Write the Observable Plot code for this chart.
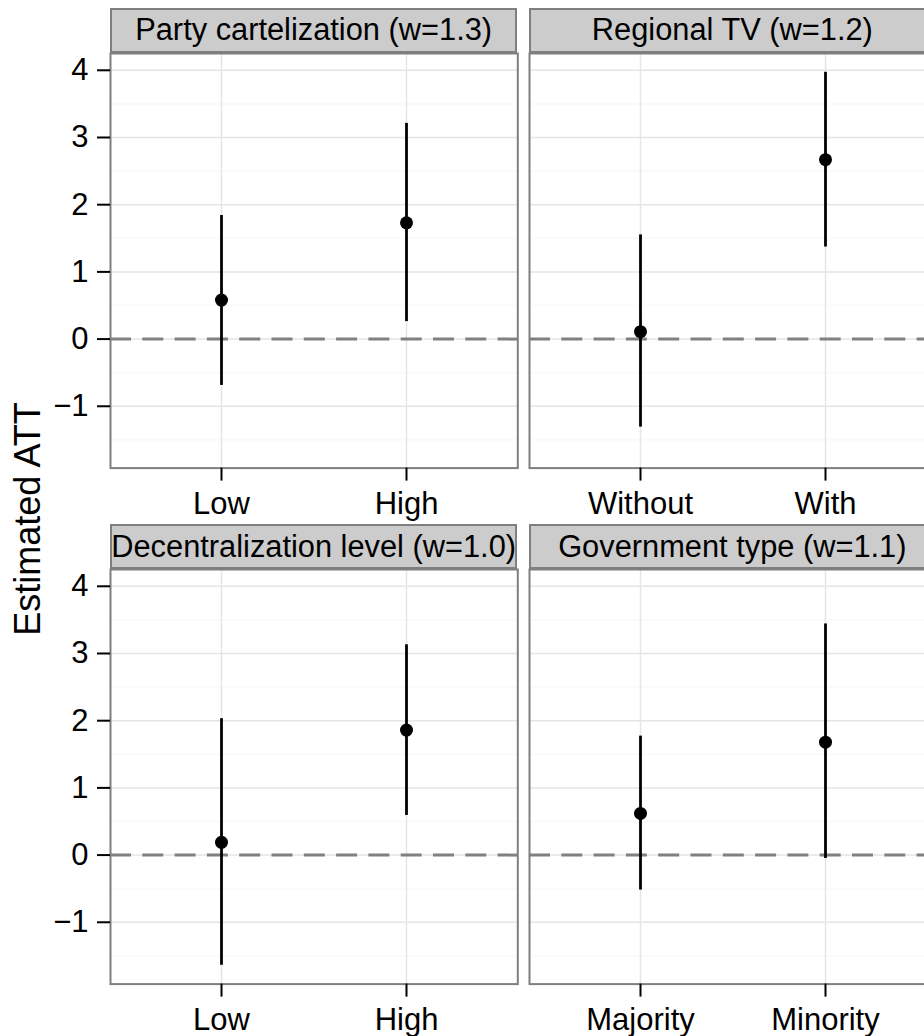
<!DOCTYPE html>
<html>
<head>
<meta charset="utf-8">
<script src="https://cdn.jsdelivr.net/npm/d3@7"></script>
<script src="https://cdn.jsdelivr.net/npm/@observablehq/plot@0.6"></script>
<style>
  html, body { margin: 0; padding: 0; background: #ffffff; }
  body { font-family: "Liberation Sans", Arial, Helvetica, sans-serif; }
  #chart { position: relative; width: 924px; height: 1036px; overflow: hidden; background: #ffffff; }
  .strip { position: absolute; box-sizing: border-box; background: #cccccc; border: 2px solid #7f7f7f;
           display: flex; align-items: center; justify-content: center; font-size: 30.8px; color: #000; white-space: nowrap; }
  .plotwrap { position: absolute; }
  .plotwrap svg { max-width: none !important; }
  .ytitle { position: absolute; font-size: 36px; color: #000; white-space: nowrap;
            transform: translate(-50%, -50%) rotate(-90deg); }
</style>
</head>
<body>
<div id="chart"></div>
<script>
// ---- data ----
const facetTitles = ["Party cartelization (w=1.3)", "Regional TV (w=1.2)", "Decentralization level (w=1.0)", "Government type (w=1.1)"];
const categories = [["Low", "High"], ["Without", "With"], ["Low", "High"], ["Majority", "Minority"]];
const estimates = [[0.58, 1.73], [0.11, 2.67], [0.19, 1.86], [0.62, 1.68]];
const lowerCI = [[-0.69, 0.26], [-1.31, 1.37], [-1.64, 0.59], [-0.52, -0.05]];
const upperCI = [[1.84, 3.21], [1.55, 3.97], [2.03, 3.13], [1.77, 3.44]];
const yTicks = [-1, 0, 1, 2, 3, 4];
const yMinorTicks = [-1.5, -0.5, 0.5, 1.5, 2.5, 3.5];
const yTitle = "Estimated ATT";

// ---- layout ----
const yDomain = [-1.92, 4.25];
const colLeft = [110, 528.7];
const panelW = 407.3;
const rowStripTop = [7.5, 524];
const rowPanelTop = [53, 569];
const panelH = 414.6;
const marginB = 70;
const fontTick = 31;

const chart = document.getElementById("chart");

facetTitles.forEach((title, i) => {
  const col = i % 2, row = Math.floor(i / 2);
  const data = categories[i].map((c, j) => ({cat: c, est: estimates[i][j], lo: lowerCI[i][j], hi: upperCI[i][j]}));
  const mL = col === 0 ? colLeft[0] : 0;

  const strip = document.createElement("div");
  strip.className = "strip";
  strip.style.left = colLeft[col] + "px";
  strip.style.top = rowStripTop[row] + "px";
  strip.style.width = panelW + "px";
  strip.style.height = (rowPanelTop[row] - rowStripTop[row]) + "px";
  strip.textContent = title;
  chart.appendChild(strip);

  const plot = Plot.plot({
    width: mL + panelW,
    height: panelH + marginB,
    marginLeft: mL, marginRight: 0, marginTop: 0, marginBottom: marginB,
    style: {fontFamily: '"Liberation Sans", Arial, Helvetica, sans-serif', fontSize: fontTick + "px", color: "#000", background: "transparent", overflow: "visible"},
    x: {type: "point", domain: categories[i], padding: 0.6, axis: null},
    y: {domain: yDomain, axis: null},
    marks: [
      Plot.ruleY(yMinorTicks, {stroke: "#fafafa", strokeWidth: 2}),
      Plot.ruleY(yTicks, {stroke: "#e5e5e5", strokeWidth: 1.5}),
      Plot.ruleX(categories[i], {stroke: "#e5e5e5", strokeWidth: 1.5}),
      Plot.ruleY([0], {stroke: "#808080", strokeWidth: 3, strokeDasharray: "21,11.3"}),
      Plot.ruleX(data, {x: "cat", y1: "lo", y2: "hi", stroke: "#000", strokeWidth: 2.8}),
      Plot.dot(data, {x: "cat", y: "est", r: 6.5, fill: "#000", stroke: null}),
      Plot.frame({stroke: "#7f7f7f", strokeWidth: 2}),
      Plot.axisX({label: null, tickSize: 13, tickPadding: 11, fontSize: fontTick, strokeWidth: 2, stroke: "#000", fill: "#000"}),
      col === 0 ? Plot.axisY(yTicks, {label: null, tickSize: 13, tickPadding: 9, fontSize: fontTick, strokeWidth: 2, stroke: "#000", fill: "#000", tickFormat: d => d < 0 ? "\u2212" + Math.abs(d) : String(d)}) : null
    ]
  });
  const wrap = document.createElement("div");
  wrap.className = "plotwrap";
  wrap.style.left = (col === 0 ? 0 : colLeft[1]) + "px";
  wrap.style.top = rowPanelTop[row] + "px";
  wrap.style.width = (mL + panelW) + "px";
  wrap.appendChild(plot);
  chart.appendChild(wrap);
});

const yt = document.createElement("div");
yt.className = "ytitle";
yt.style.left = "28px";
yt.style.top = "519px";
yt.textContent = yTitle;
chart.appendChild(yt);
</script>
</body>
</html>
